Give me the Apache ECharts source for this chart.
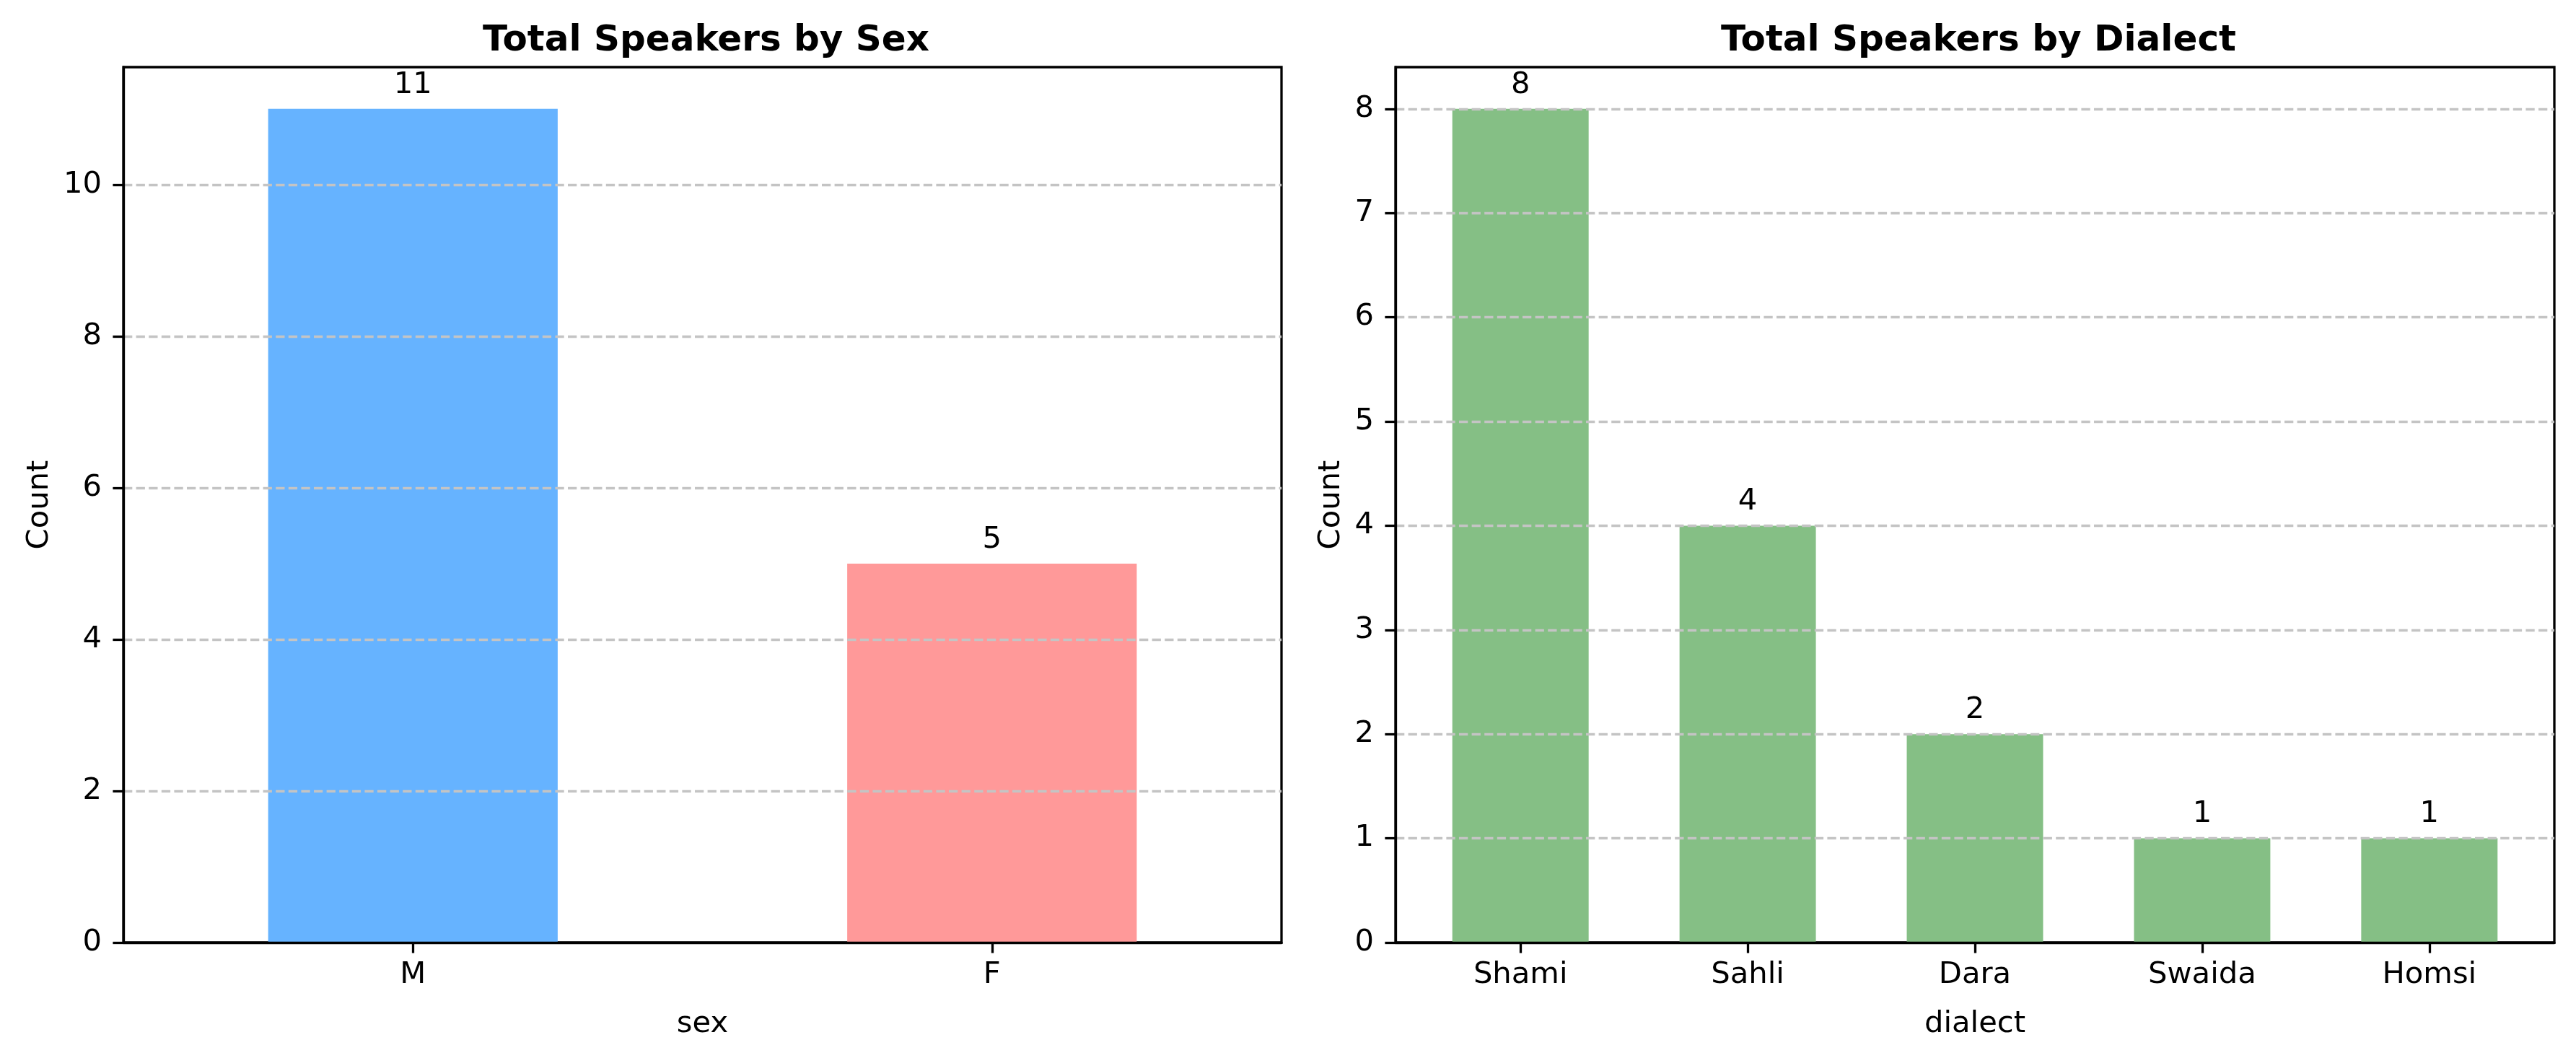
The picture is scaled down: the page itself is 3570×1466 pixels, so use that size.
<!DOCTYPE html>
<html>
<head>
<meta charset="utf-8">
<script src="https://cdn.jsdelivr.net/npm/echarts@6/dist/echarts.min.js"></script>
<style>
  html, body { margin: 0; padding: 0; background: #fff; }
  #chart { width: 3570px; height: 1466px; }
</style>
</head>
<body>
<div id="chart"></div>
<script>
// data
const sexCategories = ["M", "F"];
const sexCounts = [11, 5];
const sexColors = ["#66b3ff", "#ff9999"];
const dialectCategories = ["Shami", "Sahli", "Dara", "Swaida", "Homsi"];
const dialectCounts = [8, 4, 2, 1, 1];
const sexTicks = [0, 2, 4, 6, 8, 10];
const dialectTicks = [0, 1, 2, 3, 4, 5, 6, 7, 8];

const FONT = "DejaVu Sans";
const FS = 41.7; // 10pt @ 300dpi
const LW = 3.3;  // 0.8pt spine

const chart = echarts.init(document.getElementById("chart"), null, { renderer: "canvas" });

// plot frames
const plotTop = 93, plotHeight = 1213;
const leftFrame = { left: 171, width: 1605 };
const rightFrame = { left: 1934, width: 1606 };
// inner grid for dialect bars (xlim -0.55..4.55 -> 5 bands inset)
const bandW = rightFrame.width / 5.1;
const inset = bandW * 0.05;

const frameGrid = (f) => ({
  left: f.left, top: plotTop, width: f.width, height: plotHeight,
  show: true, borderColor: "#000", borderWidth: LW, backgroundColor: "transparent",
});

const valueAxis = (gridIndex, max, ticks, nameGap) => ({
  type: "value",
  gridIndex,
  min: 0,
  max,
  interval: ticks[1] - ticks[0],
  z: 3,
  name: "Count",
  nameLocation: "middle",
  nameRotate: 90,
  nameGap,
  nameTextStyle: { fontFamily: FONT, fontSize: FS, color: "#000" },
  axisLine: { show: true, lineStyle: { color: "#000", width: LW } },
  axisTick: { show: true, inside: false, length: 14.6, lineStyle: { color: "#000", width: LW }, customValues: ticks },
  axisLabel: { show: true, fontFamily: FONT, fontSize: FS, color: "#000", margin: 30, customValues: ticks },
  splitLine: {
    show: true, showMinLine: false,
    lineStyle: { color: "#c4c4c4", width: LW, type: [12.3, 5.3] },
  },
});

const option = {
  backgroundColor: "#fff",
  animation: false,
  title: [
    {
      text: "Total Speakers by Sex",
      left: leftFrame.left + leftFrame.width / 2, top: 27, textAlign: "center",
      textStyle: { fontFamily: FONT, fontSize: 50, fontWeight: "bold", color: "#000" },
    },
    {
      text: "Total Speakers by Dialect",
      left: rightFrame.left + rightFrame.width / 2, top: 27, textAlign: "center",
      textStyle: { fontFamily: FONT, fontSize: 50, fontWeight: "bold", color: "#000" },
    },
  ],
  grid: [
    frameGrid(leftFrame),
    frameGrid(rightFrame),
    { left: rightFrame.left + inset, top: plotTop, width: rightFrame.width - 2 * inset, height: plotHeight, show: false },
  ],
  xAxis: [
    {
      type: "category",
      gridIndex: 0,
      data: sexCategories,
      z: 3,
      name: "sex",
      nameLocation: "middle",
      nameGap: 92,
      nameTextStyle: { fontFamily: FONT, fontSize: FS, color: "#000" },
      axisLine: { show: true, lineStyle: { color: "#000", width: LW } },
      axisTick: { show: true, alignWithLabel: true, length: 14.6, lineStyle: { color: "#000", width: LW } },
      axisLabel: { fontFamily: FONT, fontSize: FS, color: "#000", margin: 24 },
      splitLine: { show: false },
    },
    {
      type: "category",
      gridIndex: 1,
      data: dialectCategories,
      z: 3,
      axisLine: { show: true, lineStyle: { color: "#000", width: LW } },
      axisTick: { show: false },
      axisLabel: { show: false },
      splitLine: { show: false },
    },
    {
      type: "category",
      gridIndex: 2,
      data: dialectCategories,
      z: 3,
      name: "dialect",
      nameLocation: "middle",
      nameGap: 92,
      nameTextStyle: { fontFamily: FONT, fontSize: FS, color: "#000" },
      axisLine: { show: false },
      axisTick: { show: true, alignWithLabel: true, length: 14.6, lineStyle: { color: "#000", width: LW } },
      axisLabel: { fontFamily: FONT, fontSize: FS, color: "#000", margin: 24 },
      splitLine: { show: false },
    },
  ],
  yAxis: [
    valueAxis(0, 11.55, sexTicks, 95),
    valueAxis(1, 8.4, dialectTicks, 68),
    { type: "value", gridIndex: 2, min: 0, max: 8.4, show: false, splitLine: { show: false } },
  ],
  series: [
    {
      type: "bar",
      xAxisIndex: 0,
      yAxisIndex: 0,
      barWidth: "50%",
      data: sexCounts.map((v, i) => ({ value: v, itemStyle: { color: sexColors[i] } })),
      label: { show: true, position: "top", distance: 12, fontFamily: FONT, fontSize: FS, color: "#000" },
    },
    {
      type: "bar",
      xAxisIndex: 2,
      yAxisIndex: 2,
      barWidth: "60%",
      itemStyle: { color: "#85bf85" },
      data: dialectCounts,
      label: { show: true, position: "top", distance: 12, fontFamily: FONT, fontSize: FS, color: "#000" },
    },
  ],
};

chart.setOption(option);
</script>
</body>
</html>
